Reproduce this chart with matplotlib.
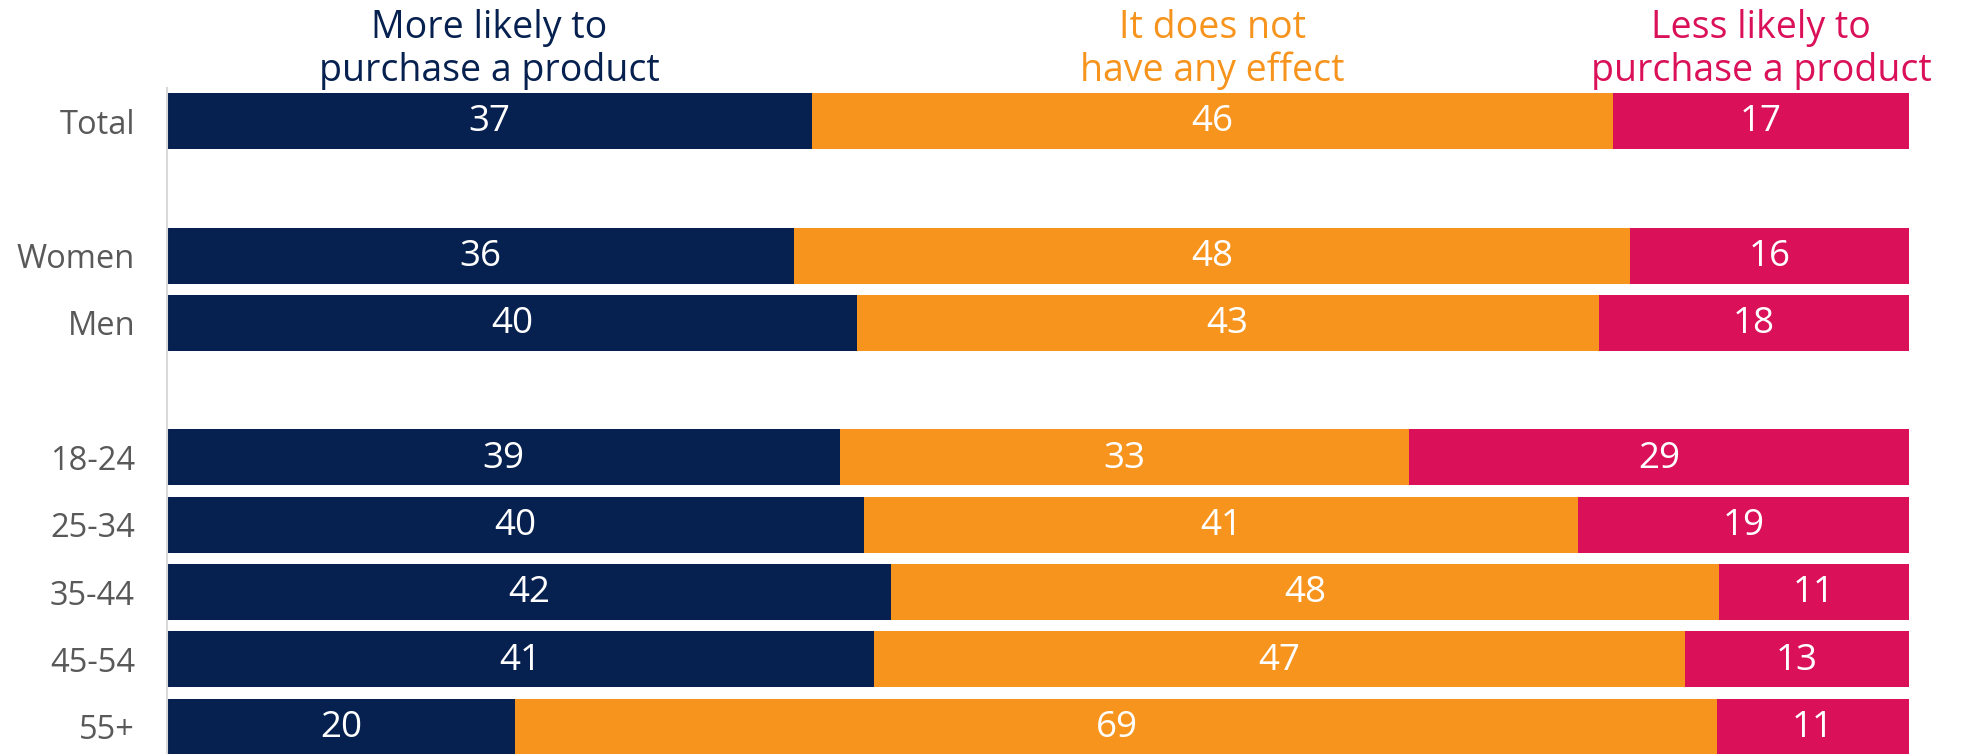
import matplotlib.pyplot as plt
import numpy as np

plt.rcParams["font.family"] = ["Open Sans", "DejaVu Sans"]

# data (percent, rows sum to ~100)
groups = ["Total", "Women", "Men", "18-24", "25-34", "35-44", "45-54", "55+"]
rows = [0, 2, 3, 5, 6, 7, 8, 9]  # gaps between Total / gender / age blocks
more_likely = [37, 36, 40, 39, 40, 42, 41, 20]
no_effect = [46, 48, 43, 33, 41, 48, 47, 69]
less_likely = [17, 16, 18, 29, 19, 11, 13, 11]

series = [more_likely, no_effect, less_likely]
headers = ["More likely to\npurchase a product",
           "It does not\nhave any effect",
           "Less likely to\npurchase a product"]
colors = ["#06204F", "#F7941E", "#DA1159"]

vals = np.array(series, dtype=float)
shares = vals / vals.sum(axis=0)  # 100% stacked
lefts = np.vstack([np.zeros(vals.shape[1]), np.cumsum(shares, axis=0)[:-1]])

fig = plt.figure(figsize=(19.67, 7.54), dpi=100)
ax = fig.add_axes([167 / 1967, 0, 1742 / 1967, 1])

for i in range(len(series)):
    ax.barh(rows, shares[i], left=lefts[i], height=0.832,
            color=colors[i], linewidth=0)
    for r, w, l, v in zip(rows, shares[i], lefts[i], vals[i]):
        ax.text(l + w / 2, r + 0.02, f"{v:.0f}", ha="center", va="center",
                color="white", fontsize=26.5)

# column headers centred over the Total row segments
for i, h in enumerate(headers):
    cx = lefts[i][0] + shares[i][0] / 2
    line1, line2 = h.split("\n")
    ax.text(cx, -1.24, line1, ha="center", va="baseline",
            color=colors[i], fontsize=27, clip_on=False)
    ax.text(cx, -0.595, line2, ha="center", va="baseline",
            color=colors[i], fontsize=27, clip_on=False)

ax.set_xlim(0, 1)
ax.set_ylim(9.406, -1.798)
ax.set_yticks(rows)
ax.set_yticklabels(groups, fontsize=23.5, color="#595959")
ax.tick_params(axis="y", length=0, pad=23)
ax.set_xticks([])
for s in ["top", "right", "bottom"]:
    ax.spines[s].set_visible(False)
ax.spines["left"].set_color("#D9D9D9")
ax.spines["left"].set_linewidth(1.5)
ax.spines["left"].set_bounds(-0.49, 9.406)
ax.patch.set_alpha(0)

fig.savefig("out.png", dpi=100)
